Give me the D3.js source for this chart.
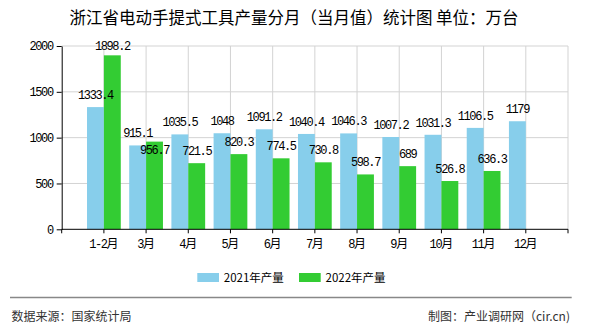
<!DOCTYPE html>
<html><head><meta charset="utf-8">
<script src="https://cdn.jsdelivr.net/npm/d3@7"></script>
<style>body{margin:0;background:#fff;}svg{display:block;}</style>
</head><body>
<script>
const categories = ["1-2月","3月","4月","5月","6月","7月","8月","9月","10月","11月","12月"];
const values2021 = [1333.4,915.1,1035.5,1048,1091.2,1040.4,1046.3,1007.2,1031.3,1106.5,1179];
const values2022 = [1898.2,956.7,721.5,820.3,774.5,730.8,598.7,689,526.8,636.3,null];
const seriesNames = ["2021年产量","2022年产量"];
const seriesColors = ["#87CEEB","#33CC33"];
const yTicks = [0,500,1000,1500,2000];
const title = "浙江省电动手提式工具产量分月（当月值）统计图 单位：万台";
const sourceText = "数据来源：国家统计局";
const creditText = "制图：产业调研网（cir.cn)";

const W = 590, H = 330;
const pLeft = 61.7, pRight = 568, pTop = 46, pBottom = 229.3;
const step = (pRight-pLeft)/12;

const svg = d3.select("body").append("svg").attr("width",W).attr("height",H);
const mono = "'Liberation Mono','Noto Sans CJK SC',monospace";
const cjk = "'Noto Sans CJK SC','Noto Sans',sans-serif";
const numSize = "12px", numSpacing = "-1.4px";

const x = d3.scalePoint().domain(categories).range([pLeft+step, pLeft+11*step]);
const xs = d3.scaleBand().domain(seriesNames).range([-step*0.4, step*0.4]);
const y = d3.scaleLinear().domain([0,2000]).range([pBottom, pTop]);

// title
svg.append("text").attr("x",294).attr("y",24).attr("text-anchor","middle")
  .style("font-family",cjk).style("font-size","16.5px").attr("fill","#000").text(title);

// grid
const g = svg.append("g");
g.selectAll("line.h").data(yTicks.filter(d=>d>0)).join("line")
  .attr("x1",pLeft).attr("x2",pRight).attr("y1",d=>y(d)).attr("y2",d=>y(d))
  .attr("stroke","#d3d3d3").attr("stroke-width",1);
g.selectAll("line.v").data(categories).join("line")
  .attr("x1",d=>x(d)).attr("x2",d=>x(d)).attr("y1",pTop).attr("y2",pBottom)
  .attr("stroke","#d3d3d3").attr("stroke-width",1);
g.append("line").attr("x1",pRight).attr("x2",pRight).attr("y1",pTop).attr("y2",pBottom)
  .attr("stroke","#d3d3d3");

// bars
const allSeries = [values2021, values2022];
allSeries.forEach((vals,si)=>{
  svg.append("g").selectAll("rect").data(categories.map((c,i)=>({c,v:vals[i]})).filter(d=>d.v!=null)).join("rect")
    .attr("x",d=>x(d.c)+xs(seriesNames[si]))
    .attr("width",xs.bandwidth())
    .attr("y",d=>y(d.v))
    .attr("height",d=>pBottom-y(d.v))
    .attr("fill",seriesColors[si]);
});

// labels
const labelG = svg.append("g").style("font-family",mono).style("font-size",numSize).style("letter-spacing",numSpacing);
const minBase = y(2000)+4;
categories.forEach((c,i)=>{
  const v1 = values2021[i], v2 = values2022[i];
  const b1 = Math.max(y(v1)-8, minBase);
  labelG.append("text").attr("x",x(c)+xs(seriesNames[0])+xs.bandwidth()/2).attr("y",b1)
    .attr("text-anchor","middle").text(v1);
  if(v2!=null){
    let b2 = Math.max(y(v2)-8, minBase);
    if(Math.abs(b2-b1)<12) b2 = b1+17;
    labelG.append("text").attr("x",x(c)+xs(seriesNames[1])+xs.bandwidth()/2).attr("y",b2)
      .attr("text-anchor","middle").text(v2);
  }
});

// y axis
const yAxis = d3.axisLeft(y).tickValues(yTicks).tickFormat(d3.format("d")).tickSize(5).tickSizeOuter(0).tickPadding(4);
const ya = svg.append("g").attr("transform",`translate(${pLeft},0)`).call(yAxis);
ya.select(".domain").attr("stroke","#000");
ya.selectAll(".tick line").attr("stroke","#000");
ya.selectAll("text").style("font-family",mono).style("font-size",numSize).style("letter-spacing",numSpacing).attr("fill","#000");

// x axis
const xa = svg.append("g");
xa.append("line").attr("x1",pLeft).attr("x2",pRight).attr("y1",pBottom).attr("y2",pBottom).attr("stroke","#000");
xa.selectAll("line.t").data([pLeft, ...categories.map(c=>x(c)), pRight]).join("line")
  .attr("x1",d=>d).attr("x2",d=>d).attr("y1",pBottom).attr("y2",pBottom+4).attr("stroke","#000");
xa.selectAll("text").data(categories).join("text")
  .attr("x",d=>x(d)).attr("y",pBottom+18.5).attr("text-anchor","middle")
  .style("font-family",mono).style("font-size",numSize).attr("fill","#000")
  .each(function(d){
    const m = d.match(/^(.*?)(月)$/);
    d3.select(this).append("tspan").style("letter-spacing",numSpacing).text(m[1]);
    d3.select(this).append("tspan").style("font-family",cjk).style("font-size","12px").text(m[2]);
  });

// legend
const leg = svg.append("g");
const legX = [197.3, 299];
seriesNames.forEach((n,i)=>{
  leg.append("rect").attr("x",legX[i]).attr("y",273).attr("width",21.7).attr("height",9).attr("fill",seriesColors[i]);
  leg.append("text").attr("x",legX[i]+26.5).attr("y",282).style("font-family",cjk).style("font-size","11.5px").attr("fill","#000").text(n);
});

// footer
svg.append("line").attr("x1",10).attr("x2",571.7).attr("y1",297.5).attr("y2",297.5).attr("stroke","#888").attr("stroke-width",1.3);
svg.append("text").attr("x",11.5).attr("y",320.5).style("font-family",cjk).style("font-size","12px").attr("fill","#333").text(sourceText);
svg.append("text").attr("x",570).attr("y",320.5).attr("text-anchor","end").style("font-family",cjk).style("font-size","12px").attr("fill","#333").text(creditText);
</script>
</body></html>
